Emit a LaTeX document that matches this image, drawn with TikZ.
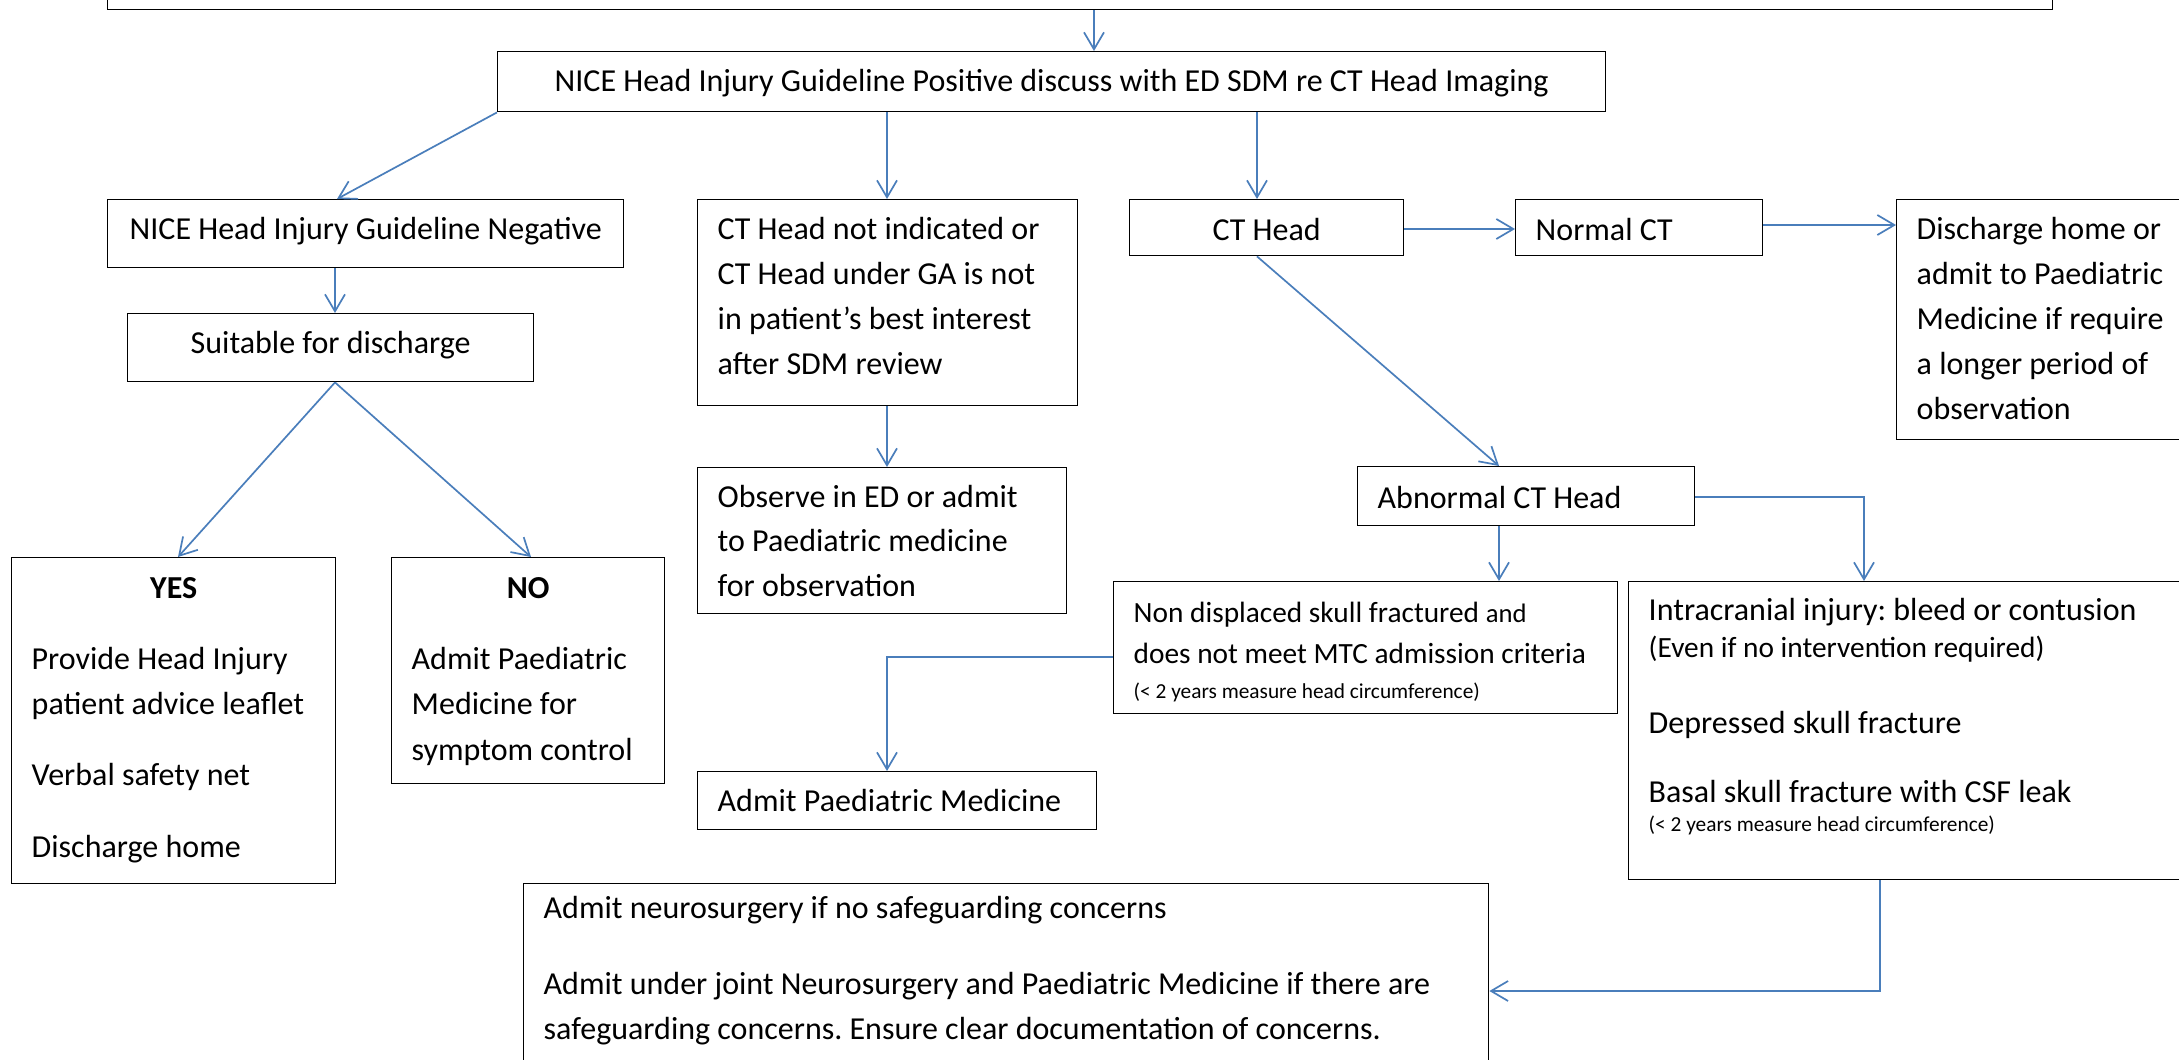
\documentclass[tikz,border=0pt]{standalone}
\usepackage{fontspec}
\setmainfont{Carlito}
\usetikzlibrary{arrows.meta,calc}
\definecolor{linkblue}{RGB}{74,126,187}
% #1 width, #2 height, #3 first-baseline strut, #4 alignment, #5 content
\newcommand\boxtext[5]{%
  \begin{minipage}[t][#2][t]{#1}\frenchspacing\baselineskip=0pt\lineskiplimit=-\maxdimen\lineskip=0pt\relax
  #4\rule{0pt}{#3}#5\end{minipage}}
\newcommand\smallsz{\fontsize{10.67pt}{0pt}\selectfont}
\newcommand\midsz{\fontsize{14.67pt}{0pt}\selectfont}
\newcommand\andsz{\fontsize{13.33pt}{0pt}\selectfont}
\begin{document}
\begin{tikzpicture}[x=0.5pt,y=-0.5pt,
  box/.style={draw=black,line width=0.7pt,fill=white,inner xsep=10pt,inner ysep=0pt,
    anchor=north west,font=\fontsize{16pt}{18pt}\selectfont},
  frame/.style={draw=black,line width=0.7pt,fill=white,inner sep=0pt,anchor=north west},
  link/.style={draw=linkblue,line width=0.85pt,-{Straight Barb[length=8.5pt,width=10pt]}}]
\useasboundingbox (0,0) rectangle (2179,1060);
\fill[white] (0,0) rectangle (2179,1060);
\clip (0,0) rectangle (2179,1060);

% boxes
\node[frame,minimum width=972.5pt,minimum height=54.5pt] (top) at (107,-100) {};
\node[box] (pos) at (497,51) {\boxtext{534pt}{30pt}{20pt}{\centering}{NICE Head Injury Guideline Positive discuss with ED SDM re CT Head Imaging}};
\node[box] (neg) at (107,199) {\boxtext{238pt}{34pt}{20pt}{\centering}{NICE Head Injury Guideline Negative}};
\node[box] (suit) at (127,313) {\boxtext{183pt}{34pt}{20pt}{\centering}{Suitable for discharge}};
\node[box] (yes) at (11,557) {\boxtext{142pt}{163pt}{20.5pt}{}{\makebox[\linewidth]{\bfseries YES}\\[35.5pt]Provide Head Injury\\[22.5pt]patient advice leaflet\\[35.5pt]Verbal safety net\\[36pt]Discharge home}};
\node[box] (no) at (391,557) {\boxtext{116.5pt}{113pt}{20.5pt}{}{\makebox[\linewidth]{\bfseries NO}\\[35.5pt]Admit Paediatric\\[22.5pt]Medicine for\\[23pt]symptom control}};
\node[box] (ctnot) at (697,199) {\boxtext{170pt}{103pt}{20pt}{}{CT Head not indicated or\\[22.5pt]CT Head under GA is not\\[22.5pt]in patient’s best interest\\[22.5pt]after SDM review}};
\node[box] (obs) at (697,467) {\boxtext{164.5pt}{73pt}{20pt}{}{Observe in ED or admit\\[22pt]to Paediatric medicine\\[22.5pt]for observation}};
\node[box] (apm) at (697,771) {\boxtext{179.5pt}{29pt}{20pt}{}{Admit Paediatric Medicine}};
\node[box] (cthead) at (1129,199) {\boxtext{117pt}{28pt}{20.5pt}{\centering}{CT Head}};
\node[box] (normal) at (1515,199) {\boxtext{103.5pt}{28pt}{20.5pt}{}{Normal CT}};
\node[box] (dis) at (1896,199) {\boxtext{150pt}{120pt}{20pt}{}{Discharge home or\\[22.5pt]admit to Paediatric\\[22.5pt]Medicine if require\\[22.5pt]a longer period of\\[22.5pt]observation}};
\node[box] (abn) at (1357,466) {\boxtext{148.5pt}{29.5pt}{21pt}{}{Abnormal CT Head}};
\node[box] (nondisp) at (1113,581) {\boxtext{232pt}{66pt}{20.5pt}{\midsz}{Non displaced skull fractured {\andsz and}\\[20.5pt]does not meet MTC admission criteria\\[17.5pt]{\smallsz (< 2 years measure head circumference)}}};
\node[box] (intra) at (1628,581) {\boxtext{280pt}{149pt}{19.5pt}{}{Intracranial injury: bleed or contusion\\[18.5pt]{\midsz (Even if no intervention required)}\\[38pt]Depressed skull fracture\\[34.5pt]Basal skull fracture with CSF leak\\[14.5pt]{\smallsz (< 2 years measure head circumference)}}};
\node[box] (bottom) at (523,883) {\boxtext{462.5pt}{125pt}{17.5pt}{}{Admit neurosurgery if no safeguarding concerns\\[38pt]Admit under joint Neurosurgery and Paediatric Medicine if there are\\[22.5pt]safeguarding concerns. Ensure clear documentation of concerns.}};

% connectors
\draw[link] ($(top.south west)+(987,0)$) -- ($(pos.north west)+(597,0)$);
\draw[link] (pos.south west) -- ($(neg.north west)+(230,0)$);
\draw[link] ($(neg.south west)+(228,0)$) -- ($(suit.north west)+(208,0)$);
\draw[link] ($(suit.south west)+(208,0)$) -- ($(yes.north west)+(167,0)$);
\draw[link] ($(suit.south west)+(208,0)$) -- ($(no.north west)+(140,0)$);
\draw[link] ($(pos.south west)+(390,0)$) -- ($(ctnot.north west)+(190,0)$);
\draw[link] ($(ctnot.south west)+(190,0)$) -- ($(obs.north west)+(190,0)$);
\draw[link] ($(pos.south west)+(760,0)$) -- ($(cthead.north west)+(128,0)$);
\draw[link] ($(cthead.north east)+(0,30)$) -- ($(normal.north west)+(0,30)$);
\draw[link] ($(normal.north east)+(0,26)$) -- ($(dis.north west)+(0,26)$);
\draw[link] ($(cthead.south west)+(128,0)$) -- ($(abn.north west)+(142,0)$);
\draw[link] ($(abn.south west)+(142,0)$) -- ($(nondisp.north west)+(386,0)$);
\draw[link] ($(abn.north east)+(0,31)$) -| ($(intra.north west)+(236,0)$);
\draw[link] ($(nondisp.north west)+(0,76)$) -| ($(apm.north west)+(190,0)$);
\draw[link] ($(intra.south west)+(252,0)$) |- ($(bottom.north east)+(0,108)$);
\end{tikzpicture}
\end{document}
